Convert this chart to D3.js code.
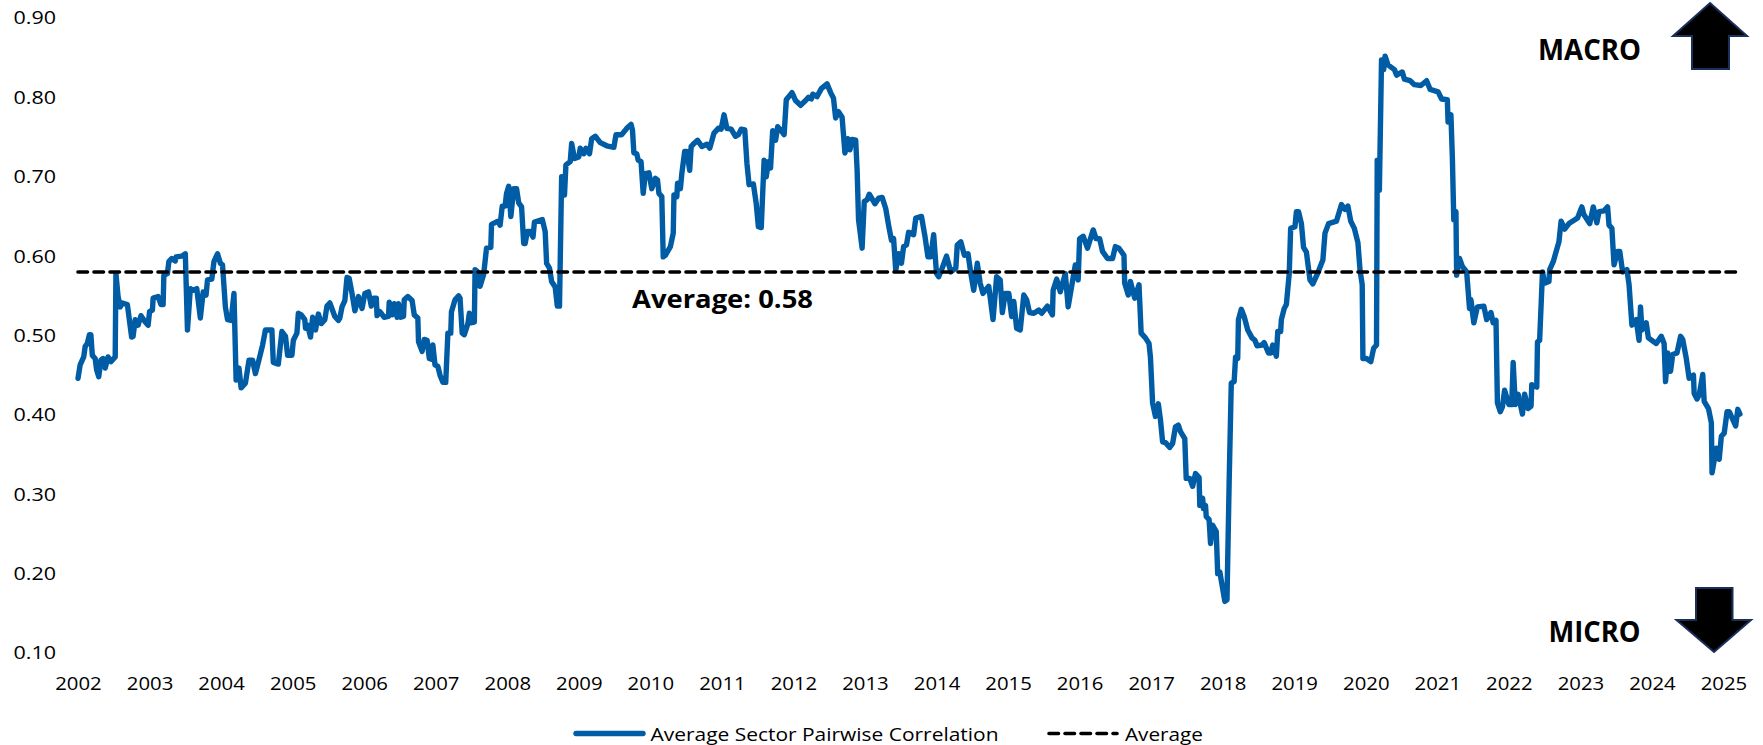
<!DOCTYPE html>
<html>
<head>
<meta charset="utf-8">
<script src="https://cdnjs.cloudflare.com/ajax/libs/d3/7.8.5/d3.min.js"></script>
<style>
html,body{margin:0;padding:0;background:#fff;overflow:hidden}
svg{display:block}
text{font-family:"Open Sans",sans-serif;fill:#000}
</style>
</head>
<body>
<svg id="chart" width="1763" height="745"></svg>
<script>
const yearTicks = d3.range(2002, 2026);
const valueTicks = [0.1,0.2,0.3,0.4,0.5,0.6,0.7,0.8,0.9];
const averageValue = 0.58;
const averageSpan = [2002, 2025.17];
const seriesNames = ["Average Sector Pairwise Correlation","Average"];

const dates = [
2002.00,2002.03,2002.08,2002.10,2002.13,2002.16,2002.18,2002.20,2002.24,2002.26,
2002.29,2002.32,2002.35,2002.38,2002.42,2002.46,2002.52,2002.53,2002.56,2002.59,
2002.62,2002.69,2002.75,2002.77,2002.80,2002.84,2002.88,2002.94,2002.98,2003.00,
2003.04,2003.05,2003.12,2003.16,2003.19,2003.20,2003.25,2003.27,2003.31,2003.36,
2003.37,2003.45,2003.50,2003.53,2003.57,2003.61,2003.66,2003.71,2003.75,2003.79,
2003.81,2003.87,2003.90,2003.95,2003.99,2004.02,2004.06,2004.09,2004.14,2004.18,
2004.21,2004.25,2004.28,2004.34,2004.39,2004.44,2004.48,2004.54,2004.58,2004.62,
2004.71,2004.73,2004.80,2004.85,2004.90,2004.93,2004.99,2005.01,2005.06,2005.08,
2005.12,2005.17,2005.18,2005.21,2005.25,2005.28,2005.32,2005.36,2005.40,2005.45,
2005.48,2005.52,2005.59,2005.64,2005.66,2005.69,2005.73,2005.76,2005.79,2005.83,
2005.87,2005.92,2005.97,2006.01,2006.06,2006.10,2006.13,2006.17,2006.18,2006.22,
2006.28,2006.34,2006.35,2006.39,2006.42,2006.46,2006.48,2006.51,2006.55,2006.56,
2006.61,2006.67,2006.70,2006.75,2006.76,2006.81,2006.84,2006.88,2006.91,2006.94,
2006.96,2006.99,2007.03,2007.06,2007.10,2007.14,2007.17,2007.21,2007.22,2007.27,
2007.32,2007.34,2007.37,2007.40,2007.45,2007.47,2007.49,2007.54,2007.55,2007.59,
2007.62,2007.67,2007.71,2007.77,2007.78,2007.87,2007.90,2007.93,2007.97,2007.99,
2008.02,2008.05,2008.09,2008.13,2008.16,2008.20,2008.23,2008.25,2008.28,2008.32,
2008.36,2008.38,2008.49,2008.53,2008.55,2008.59,2008.62,2008.67,2008.70,2008.73,
2008.76,2008.80,2008.82,2008.88,2008.90,2008.94,2009.00,2009.02,2009.07,2009.10,
2009.15,2009.18,2009.23,2009.30,2009.39,2009.49,2009.52,2009.60,2009.67,2009.73,
2009.75,2009.77,2009.81,2009.83,2009.87,2009.90,2009.93,2009.98,2010.02,2010.07,
2010.10,2010.12,2010.16,2010.18,2010.21,2010.28,2010.32,2010.33,2010.37,2010.38,
2010.42,2010.44,2010.48,2010.51,2010.55,2010.57,2010.61,2010.66,2010.72,2010.79,
2010.83,2010.89,2010.95,2010.99,2011.03,2011.07,2011.13,2011.19,2011.23,2011.27,
2011.32,2011.35,2011.38,2011.44,2011.48,2011.51,2011.55,2011.59,2011.62,2011.65,
2011.68,2011.71,2011.75,2011.78,2011.82,2011.87,2011.90,2011.98,2012.03,2012.10,
2012.17,2012.21,2012.25,2012.27,2012.33,2012.39,2012.47,2012.52,2012.56,2012.59,
2012.63,2012.68,2012.72,2012.76,2012.79,2012.82,2012.87,2012.89,2012.91,2012.96,
2012.99,2013.03,2013.06,2013.14,2013.19,2013.24,2013.29,2013.33,2013.37,2013.40,
2013.43,2013.47,2013.51,2013.54,2013.58,2013.61,2013.68,2013.71,2013.79,2013.84,
2013.88,2013.92,2013.96,2014.00,2014.03,2014.08,2014.14,2014.20,2014.27,2014.29,
2014.34,2014.39,2014.44,2014.48,2014.52,2014.57,2014.61,2014.65,2014.73,2014.79,
2014.84,2014.89,2014.92,2014.96,2015.01,2015.05,2015.08,2015.12,2015.17,2015.22,
2015.26,2015.30,2015.36,2015.43,2015.47,2015.55,2015.62,2015.63,2015.68,2015.73,
2015.80,2015.84,2015.90,2015.94,2015.98,2016.00,2016.05,2016.11,2016.19,2016.23,
2016.28,2016.32,2016.39,2016.46,2016.50,2016.55,2016.62,2016.63,2016.68,2016.71,
2016.77,2016.83,2016.86,2016.92,2016.97,2016.99,2017.02,2017.06,2017.10,2017.13,
2017.16,2017.20,2017.26,2017.30,2017.34,2017.38,2017.41,2017.47,2017.49,2017.54,
2017.58,2017.62,2017.67,2017.68,2017.72,2017.73,2017.76,2017.77,2017.81,2017.83,
2017.86,2017.91,2017.93,2017.96,2018.03,2018.06,2018.09,2018.12,2018.16,2018.18,
2018.21,2018.22,2018.26,2018.30,2018.35,2018.41,2018.45,2018.48,2018.55,2018.58,
2018.64,2018.67,2018.70,2018.75,2018.77,2018.81,2018.82,2018.86,2018.89,2018.93,
2018.95,2019.01,2019.03,2019.06,2019.10,2019.13,2019.17,2019.22,2019.26,2019.33,
2019.40,2019.43,2019.48,2019.59,2019.66,2019.71,2019.75,2019.79,2019.84,2019.89,
2019.92,2019.95,2019.96,2020.01,2020.07,2020.11,2020.15,2020.16,2020.19,2020.22,
2020.25,2020.27,2020.31,2020.40,2020.43,2020.51,2020.54,2020.62,2020.68,2020.77,
2020.85,2020.90,2021.01,2021.06,2021.14,2021.15,2021.19,2021.21,2021.23,2021.26,
2021.27,2021.31,2021.35,2021.41,2021.45,2021.47,2021.51,2021.56,2021.65,2021.69,
2021.75,2021.78,2021.82,2021.84,2021.88,2021.91,2021.94,2022.00,2022.04,2022.06,
2022.09,2022.13,2022.19,2022.22,2022.27,2022.31,2022.32,2022.39,2022.40,2022.43,
2022.47,2022.50,2022.56,2022.57,2022.62,2022.70,2022.73,2022.78,2022.84,2022.96,
2023.02,2023.05,2023.13,2023.18,2023.23,2023.26,2023.33,2023.38,2023.40,2023.44,
2023.47,2023.52,2023.55,2023.59,2023.65,2023.68,2023.72,2023.78,2023.82,2023.84,
2023.86,2023.92,2023.95,2024.06,2024.13,2024.17,2024.19,2024.22,2024.26,2024.29,
2024.35,2024.40,2024.43,2024.48,2024.52,2024.58,2024.59,2024.63,2024.66,2024.71,
2024.73,2024.79,2024.83,2024.84,2024.90,2024.94,2024.97,2025.01,2025.05,2025.08,
2025.11,2025.17,2025.20,2025.23
];

const correlation = [
.446,.463,.473,.486,.490,.501,.501,.475,.471,.457,
.448,.469,.471,.459,.473,.467,.473,.578,.549,.536,
.541,.539,.498,.499,.520,.513,.525,.517,.513,.530,
.532,.547,.549,.539,.539,.576,.578,.593,.597,.594,
.599,.600,.603,.507,.559,.557,.559,.522,.555,.551,
.570,.571,.593,.603,.591,.589,.536,.520,.519,.553,
.444,.459,.434,.440,.469,.469,.452,.473,.488,.507,
.507,.466,.464,.505,.499,.475,.475,.494,.503,.528,
.526,.520,.509,.513,.498,.523,.507,.527,.515,.520,
.537,.541,.524,.519,.522,.536,.544,.573,.572,.553,
.531,.549,.534,.553,.555,.537,.547,.547,.525,.530,
.523,.524,.542,.526,.540,.523,.540,.523,.524,.545,
.549,.544,.526,.522,.492,.480,.495,.494,.471,.470,
.488,.463,.461,.450,.441,.441,.503,.503,.530,.545,
.550,.547,.503,.501,.515,.528,.516,.517,.583,.580,
.562,.577,.610,.611,.640,.644,.639,.663,.663,.679,
.688,.650,.685,.685,.667,.662,.616,.616,.631,.631,
.624,.643,.646,.631,.591,.585,.568,.561,.537,.537,
.700,.677,.715,.719,.742,.723,.725,.736,.729,.736,
.729,.748,.751,.743,.739,.737,.753,.753,.761,.766,
.759,.730,.729,.721,.719,.679,.704,.705,.685,.698,
.696,.679,.675,.599,.601,.612,.629,.677,.675,.692,
.685,.704,.732,.732,.708,.738,.742,.746,.738,.741,
.736,.755,.761,.760,.778,.761,.760,.751,.753,.760,
.759,.717,.690,.691,.666,.637,.636,.721,.700,.719,
.711,.758,.746,.763,.759,.753,.797,.806,.796,.790,
.796,.800,.798,.804,.801,.811,.817,.806,.799,.774,
.782,.775,.730,.748,.734,.747,.746,.709,.646,.610,
.669,.671,.678,.666,.673,.674,.660,.639,.620,.622,
.582,.603,.591,.612,.614,.630,.627,.648,.650,.624,
.599,.599,.627,.578,.574,.585,.600,.580,.585,.614,
.618,.601,.603,.578,.557,.591,.566,.553,.562,.520,
.574,.570,.529,.553,.553,.524,.543,.509,.507,.551,
.545,.529,.528,.532,.528,.537,.526,.557,.571,.555,
.578,.536,.568,.589,.570,.622,.625,.610,.633,.622,
.622,.606,.597,.597,.612,.610,.601,.566,.551,.568,
.547,.564,.503,.497,.490,.473,.415,.398,.414,.394,
.366,.365,.359,.364,.385,.387,.379,.370,.320,.320,
.310,.326,.321,.286,.295,.282,.286,.272,.268,.238,
.261,.253,.200,.202,.165,.167,.314,.440,.442,.473,
.471,.520,.533,.524,.507,.497,.494,.487,.488,.491,
.478,.478,.488,.474,.505,.505,.520,.534,.539,.578,
.635,.637,.656,.656,.641,.611,.605,.570,.565,.579,
.595,.629,.641,.644,.665,.659,.663,.644,.635,.617,
.582,.564,.471,.471,.467,.484,.488,.721,.683,.847,
.835,.852,.841,.835,.828,.832,.823,.821,.816,.815,
.821,.810,.807,.798,.797,.769,.778,.725,.646,.656,
.576,.597,.587,.580,.534,.545,.516,.536,.537,.520,
.529,.516,.519,.415,.404,.410,.431,.413,.413,.466,
.413,.426,.401,.426,.408,.411,.438,.435,.492,.494,
.580,.566,.568,.583,.593,.618,.644,.634,.641,.648,
.662,.652,.641,.662,.642,.656,.657,.662,.639,.635,
.589,.606,.606,.580,.583,.564,.513,.520,.494,.536,
.507,.516,.497,.490,.499,.490,.442,.478,.455,.476,
.478,.499,.495,.471,.446,.450,.427,.420,.425,.451,
.417,.408,.390,.327,.358,.344,.373,.377,.404,.404,
.398,.386,.407,.401
];

const svg = d3.select("#chart");
const x = d3.scaleLinear().domain([2002, 2025]).range([78, 1723.5]);
const y = d3.scaleLinear().domain([0.1, 0.9]).range([653, 18]);

const LINE_BLUE = "#005CA5", ARROW_EDGE = "#1B2F5B";
const tickFont = g => g.style("font-size","18.5px").style("font-family",'"Open Sans",sans-serif').attr("lengthAdjust","spacingAndGlyphs");

svg.append("g").attr("transform","translate(0,677)")
  .call(d3.axisBottom(x).tickValues(yearTicks).tickFormat(d3.format("d")).tickSize(0).tickPadding(0))
  .call(g=>g.select(".domain").remove())
  .selectAll("text").attr("y",0).attr("dy","0.72em").attr("textLength",46.5).call(tickFont);

svg.append("g").attr("transform","translate(56,0)")
  .call(d3.axisLeft(y).tickValues(valueTicks).tickFormat(d3.format(".2f")).tickSize(0).tickPadding(0))
  .call(g=>g.select(".domain").remove())
  .selectAll("text").attr("textLength",42.5).call(tickFont);

const line = d3.line().x(d=>x(d[0])).y(d=>y(d[1]));
const points = dates.map((d,i)=>[d,correlation[i]]);

svg.append("path").datum(points).attr("d",line).attr("fill","none")
  .attr("stroke",LINE_BLUE).attr("stroke-width",5.4).attr("stroke-linejoin","round").attr("stroke-linecap","round");

svg.append("path").datum(averageSpan.map(d=>[d,averageValue])).attr("d",line).attr("fill","none")
  .attr("stroke","#000").attr("stroke-width",3.6).attr("stroke-dasharray","9.5 6.5").attr("stroke-linecap","round");

function label(t,xp,yp,size,weight,len){
  const el = svg.append("text").attr("x",xp).attr("y",yp).attr("dy","0.35em")
    .style("font-size",size+"px").style("font-weight",weight).text(t);
  if(len) el.attr("textLength",len).attr("lengthAdjust","spacingAndGlyphs");
  return el;
}
label("Average: "+averageValue.toFixed(2),632,299.5,25.5,700,181);
label("MACRO",1538,50,28,700,103);
label("MICRO",1548.5,632,28,700,92);

const arrow = d3.line();
svg.append("path").attr("d",arrow([[1710,3],[1747,36],[1729,36],[1729,69],[1692,69],[1692,36],[1673,36]])+"Z")
  .attr("fill","#000").attr("stroke",ARROW_EDGE).attr("stroke-width",2);
svg.append("path").attr("d",arrow([[1696,588],[1732.5,588],[1732.5,620],[1751,620],[1714,652],[1676.5,620],[1696,620]])+"Z")
  .attr("fill","#000").attr("stroke",ARROW_EDGE).attr("stroke-width",2);

const legendY = 733.5;
svg.append("line").attr("x1",576).attr("x2",643).attr("y1",legendY).attr("y2",legendY)
  .attr("stroke",LINE_BLUE).attr("stroke-width",5.4).attr("stroke-linecap","round");
label(seriesNames[0],650.5,735,18.5,400,348);
svg.append("line").attr("x1",1049).attr("x2",1117).attr("y1",legendY).attr("y2",legendY)
  .attr("stroke","#000").attr("stroke-width",3.6).attr("stroke-dasharray","9.5 6.5").attr("stroke-linecap","round");
label(seriesNames[1],1125,735,18.5,400,78);
</script>
</body>
</html>
